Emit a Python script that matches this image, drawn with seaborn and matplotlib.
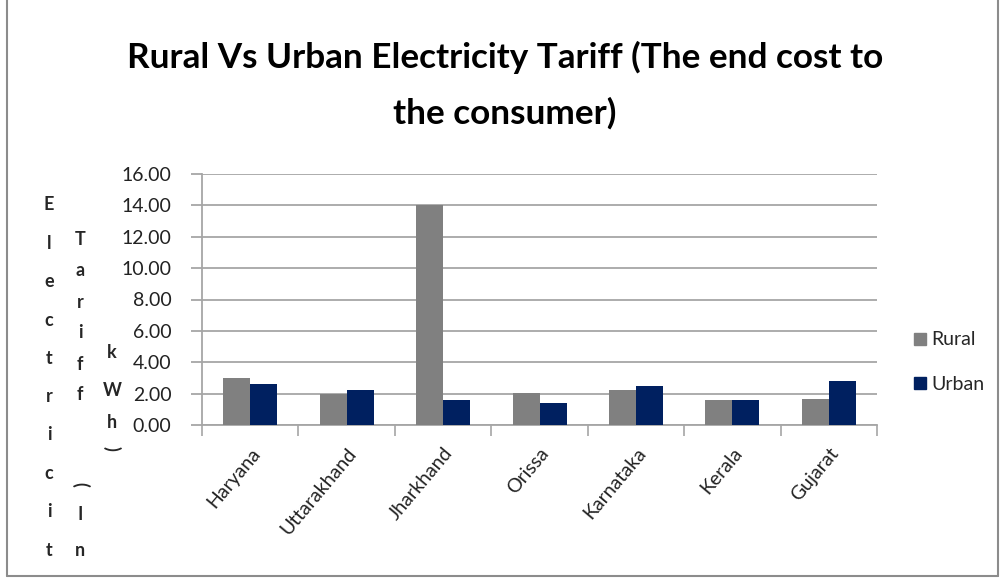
import numpy as np
import pandas as pd
import matplotlib
matplotlib.use("Agg")
import matplotlib.pyplot as plt
import seaborn as sns
from matplotlib.lines import Line2D

states = ["Haryana", "Uttarakhand", "Jharkhand", "Orissa", "Karnataka", "Kerala", "Gujarat"]
rural = [3.02, 2.00, 14.00, 2.05, 2.22, 1.58, 1.65]
urban = [2.61, 2.20, 1.58, 1.43, 2.47, 1.58, 2.81]
series = ["Rural", "Urban"]
colors = ["#808080", "#002060"]
yticks = [0, 2, 4, 6, 8, 10, 12, 14, 16]

df = pd.DataFrame({
    "State": states * 2,
    "Series": ["Rural"] * len(states) + ["Urban"] * len(states),
    "Tariff": rural + urban,
})

sns.set_theme(style="white")
fam = ["Lato", "DejaVu Sans"]
plt.rcParams["font.family"] = fam

W, H = 1006, 579
fig = plt.figure(figsize=(W / 100, H / 100), dpi=100)
ax = fig.add_axes([202 / W, 1 - 425 / H, (877 - 202) / W, (425 - 174) / H])

sns.barplot(data=df, x="State", y="Tariff", hue="Series", order=states,
            hue_order=series, palette=colors, width=0.56, saturation=1,
            ax=ax, legend=False, zorder=3, linewidth=0)

ax.set_ylim(0, 16)
ax.set_xlim(-0.5, len(states) - 0.5)
ax.set_yticks(yticks)
ax.set_yticklabels([f"{v:.2f}" for v in yticks], fontsize=14, color="#222222")
ax.yaxis.grid(True, color="#a6a6a6", linewidth=1.3, zorder=0)
ax.set_axisbelow(True)
for s in ["top", "right"]:
    ax.spines[s].set_visible(False)
for s in ["left", "bottom"]:
    ax.spines[s].set_color("#a6a6a6")
    ax.spines[s].set_linewidth(1.3)
ax.tick_params(axis="y", left=True, length=8, width=1.3, color="#a6a6a6", pad=14)
ax.set_xticks(range(len(states)))
ax.set_xticklabels(states, rotation=50, ha="right", rotation_mode="anchor",
                   fontsize=14, color="#222222")
ax.set_xticks(np.arange(-0.5, len(states), 1), minor=True)
ax.tick_params(axis="x", which="major", length=0, pad=14)
ax.tick_params(axis="x", which="minor", bottom=True, length=8, color="#a6a6a6", width=1.2)
ax.set_xlabel("")
ax.set_ylabel("")

# Title
fig.text(505 / W, 1 - 57 / H, "Rural Vs Urban Electricity Tariff (The end cost to",
         ha="center", va="center", fontsize=25.3, fontweight="bold", color="#000000")
fig.text(505 / W, 1 - 113 / H, "the consumer)",
         ha="center", va="center", fontsize=25.3, fontweight="bold", color="#000000")

# Stacked vertical y-axis label
col1 = list("Electricit")
col2 = ["T", "a", "r", "i", "f", "f", "", "(", "I", "n"]
col3 = ["k", "W", "h", ")"]
ys1 = np.linspace(205, 550, len(col1))
for ch, y in zip(col1, ys1):
    fig.text(49 / W, 1 - y / H, ch, ha="center", va="center", fontsize=13, fontweight="bold")
ys2 = [240, 271, 302, 333, 364, 395, 0, 484, 515, 550]
for ch, y in zip(col2, ys2):
    if not ch:
        continue
    rot = 270 if ch == "(" else 0
    fig.text(80 / W, 1 - y / H, ch, ha="center", va="center", fontsize=13,
             fontweight="bold", rotation=rot)
ys3 = [352, 390, 423, 448]
for ch, y in zip(col3, ys3):
    rot = 270 if ch == ")" else 0
    fig.text(112 / W, 1 - y / H, ch, ha="center", va="center", fontsize=13,
             fontweight="bold", rotation=rot)

# Legend
handles = [Line2D([0], [0], marker="s", linestyle="", markersize=9,
                  markerfacecolor=c, markeredgecolor=c) for c in colors]
fig.legend(handles, series, loc="center left", bbox_to_anchor=(893 / W, 1 - 362 / H),
           frameon=False, fontsize=14, handletextpad=0.05, labelspacing=1.4,
           handlelength=1.0)

# Outer frame
frame_color = "#8c8c8c"
fig.add_artist(Line2D([7 / W, 7 / W], [1 - 576 / H, 1.0], transform=fig.transFigure,
                      color=frame_color, linewidth=1.5))
fig.add_artist(Line2D([998 / W, 998 / W], [1 - 576 / H, 1.0], transform=fig.transFigure,
                      color=frame_color, linewidth=1.5))
fig.add_artist(Line2D([7 / W, 998 / W], [1 - 576 / H, 1 - 576 / H], transform=fig.transFigure,
                      color=frame_color, linewidth=1.5))

fig.savefig("out.png", dpi=100, facecolor="white")
